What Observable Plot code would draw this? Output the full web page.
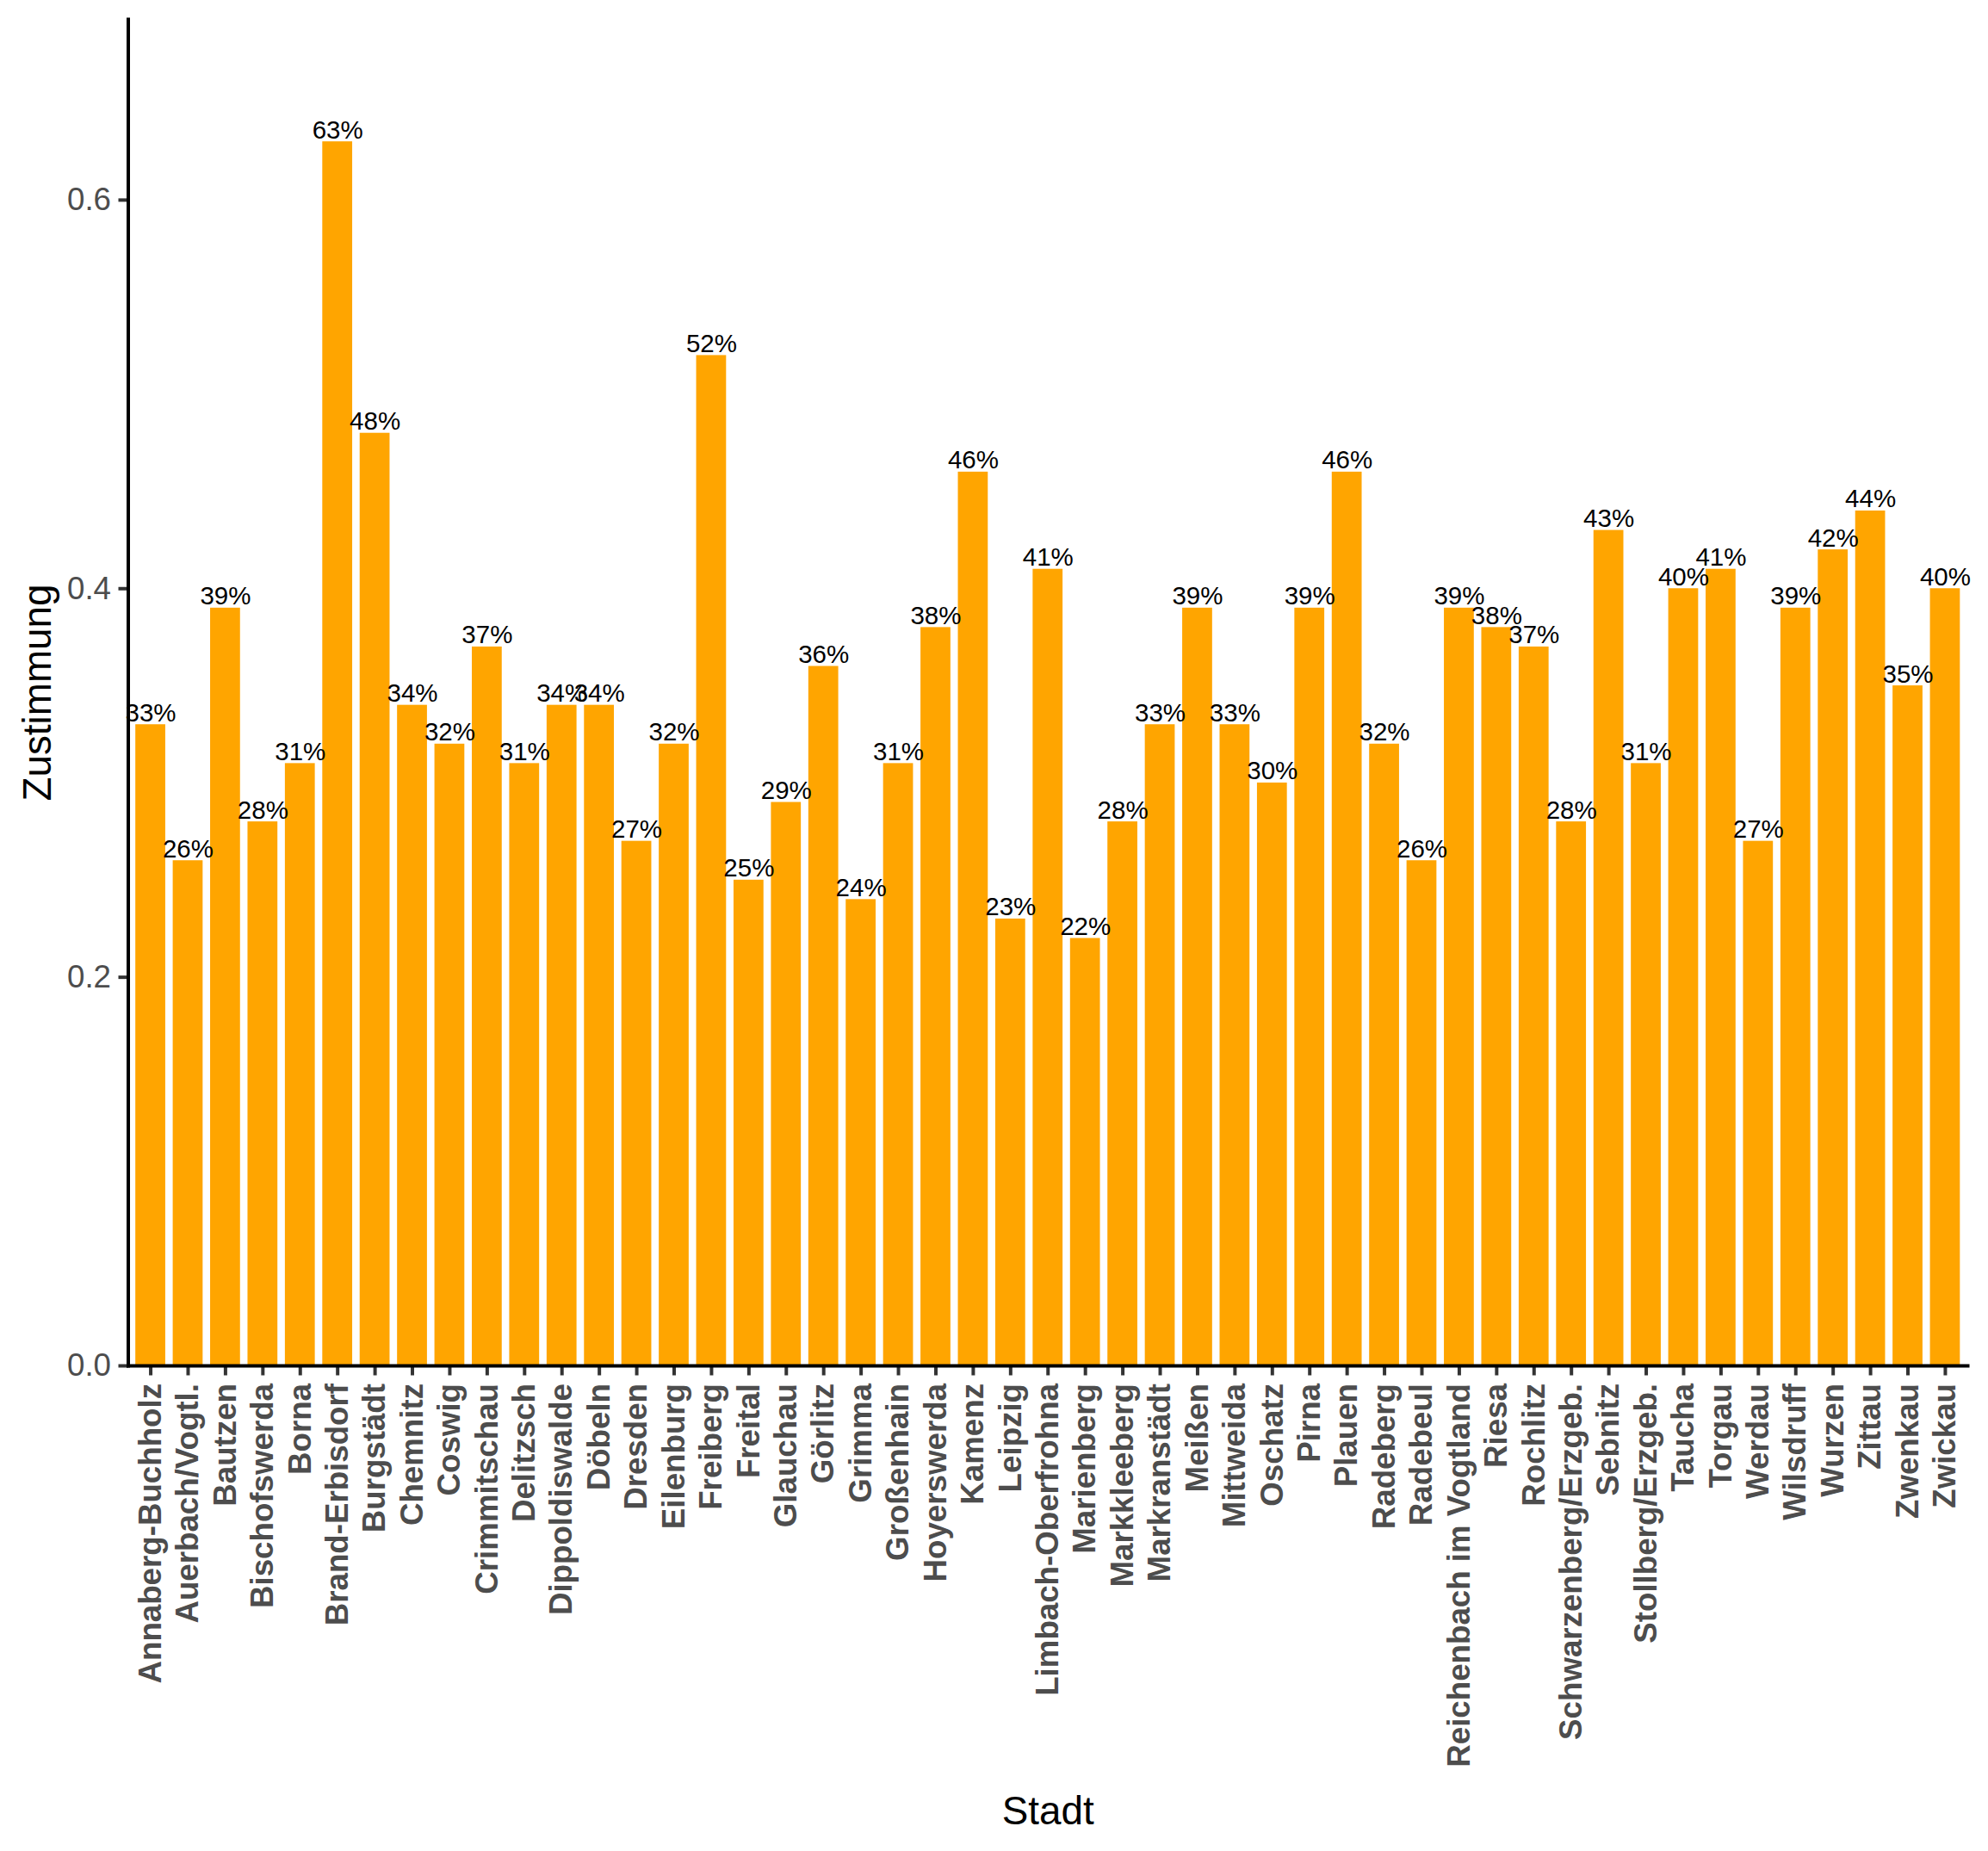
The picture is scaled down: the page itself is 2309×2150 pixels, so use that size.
<!DOCTYPE html>
<html><head><meta charset="utf-8">
<script src="https://cdn.jsdelivr.net/npm/d3@7"></script>
<script src="https://cdn.jsdelivr.net/npm/@observablehq/plot@0.6"></script>
<style>body{margin:0;background:#fff}</style>
</head><body><div id="chart"></div>
<script>
const cities = ["Annaberg-Buchholz","Auerbach/Vogtl.","Bautzen","Bischofswerda","Borna","Brand-Erbisdorf","Burgstädt","Chemnitz","Coswig","Crimmitschau","Delitzsch","Dippoldiswalde","Döbeln","Dresden","Eilenburg","Freiberg","Freital","Glauchau","Görlitz","Grimma","Großenhain","Hoyerswerda","Kamenz","Leipzig","Limbach-Oberfrohna","Marienberg","Markkleeberg","Markranstädt","Meißen","Mittweida","Oschatz","Pirna","Plauen","Radeberg","Radebeul","Reichenbach im Vogtland","Riesa","Rochlitz","Schwarzenberg/Erzgeb.","Sebnitz","Stollberg/Erzgeb.","Taucha","Torgau","Werdau","Wilsdruff","Wurzen","Zittau","Zwenkau","Zwickau"];
const values = [0.33,0.26,0.39,0.28,0.31,0.63,0.48,0.34,0.32,0.37,0.31,0.34,0.34,0.27,0.32,0.52,0.25,0.29,0.36,0.24,0.31,0.38,0.46,0.23,0.41,0.22,0.28,0.33,0.39,0.33,0.30,0.39,0.46,0.32,0.26,0.39,0.38,0.37,0.28,0.43,0.31,0.40,0.41,0.27,0.39,0.42,0.44,0.35,0.40];
const yTicks = [0, 0.2, 0.4, 0.6];
const data = cities.map((c, i) => ({stadt: c, wert: values[i]}));
const font = "'Liberation Sans', Arial, Helvetica, sans-serif";

const chart = Plot.plot({
  width: 2309, height: 2150,
  marginLeft: 148.5, marginRight: 24, marginTop: 22, marginBottom: 564,
  style: {fontFamily: font, background: "#fff"},
  x: {type: "band", domain: cities, padding: 0.2, round: false},
  y: {domain: [0, 0.693]},
  marks: [
    Plot.barY(data, {x: "stadt", y: "wert", fill: "#FFA500"}),
    Plot.text(data, {x: "stadt", y: "wert", text: d => Math.round(d.wert * 100) + "%", lineAnchor: "bottom", dy: -4, fontSize: 29.5, fill: "black"}),
    Plot.axisY({ticks: yTicks, tickFormat: d3.format(".1f"), tickSize: 11, tickPadding: 9, fontSize: 36.7, fill: "#4D4D4D", stroke: "#333333", strokeWidth: 4, label: "Zustimmung", labelAnchor: "center", labelOffset: 123, labelArrow: "none"}),
    Plot.axisX({tickRotate: -90, tickSize: 11.5, tickPadding: 9, fontSize: 36.7, fontWeight: "bold", fill: "#4D4D4D", stroke: "#333333", strokeWidth: 4, label: "Stadt", labelAnchor: "center", labelOffset: 532, labelArrow: "none"}),
    Plot.frame({anchor: "left", stroke: "black", strokeWidth: 4}),
    Plot.frame({anchor: "bottom", stroke: "black", strokeWidth: 4})
  ]
});
d3.select(chart).selectAll('[aria-label="y-axis label"], [aria-label="x-axis label"]')
  .attr("fill", "black").attr("font-size", 45.8).attr("font-weight", "normal")
  .selectAll("text").attr("fill", "black").attr("font-size", 45.8).attr("font-weight", "normal");
document.getElementById("chart").appendChild(chart);
</script>
</body></html>
